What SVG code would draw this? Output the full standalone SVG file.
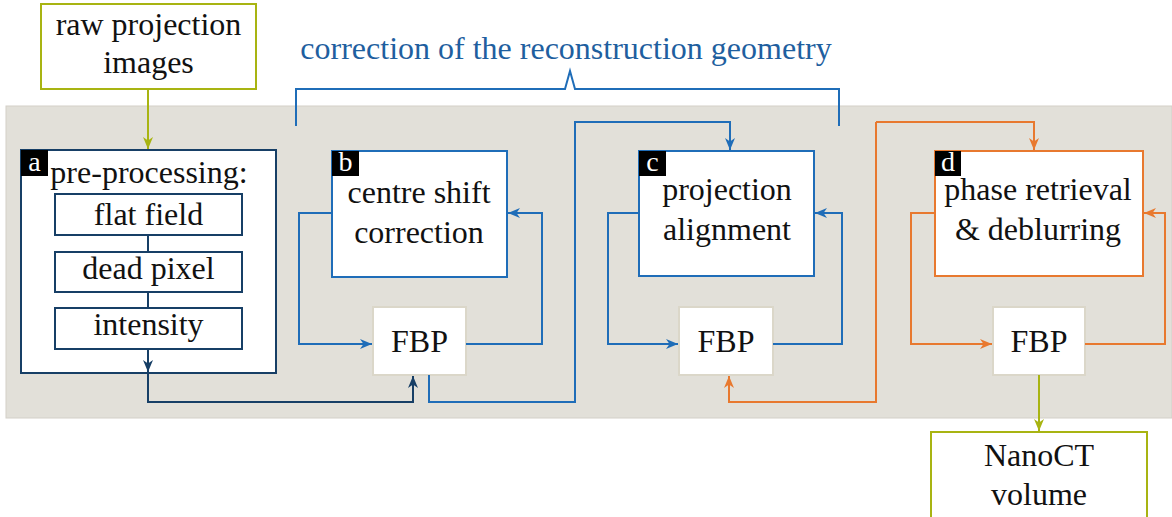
<svg xmlns="http://www.w3.org/2000/svg" width="1172" height="517" viewBox="0 0 1172 517">
  <defs>
    <style>
      text { font-family: "Liberation Serif", "Times New Roman", serif; font-size: 32px; fill: #111; text-anchor: middle; }
      .tag { font-size: 28px; fill: #fff; }
      .title { fill: #1f5f9f; }
      .box { fill: #fff; stroke-width: 2; }
      .navy { stroke: #173f66; }
      .blue { stroke: #1f6db8; }
      .orange { stroke: #e8792f; }
      .olive { stroke: #a8b412; }
      .fbp { fill: #fff; stroke: #dbd7c9; stroke-width: 2; }
      .wire { fill: none; stroke-width: 2; }
    </style>
    <marker id="ah-navy" viewBox="0 0 12 10" refX="12" refY="5" markerWidth="12" markerHeight="10" markerUnits="userSpaceOnUse" orient="auto">
      <path d="M0,0 L12,5 L0,10 L3.5,5 z" fill="#173f66"/>
    </marker>
    <marker id="ah-blue" viewBox="0 0 12 10" refX="12" refY="5" markerWidth="12" markerHeight="10" markerUnits="userSpaceOnUse" orient="auto">
      <path d="M0,0 L12,5 L0,10 L3.5,5 z" fill="#1f6db8"/>
    </marker>
    <marker id="ah-orange" viewBox="0 0 12 10" refX="12" refY="5" markerWidth="12" markerHeight="10" markerUnits="userSpaceOnUse" orient="auto">
      <path d="M0,0 L12,5 L0,10 L3.5,5 z" fill="#e8792f"/>
    </marker>
    <marker id="ah-olive" viewBox="0 0 12 10" refX="12" refY="5" markerWidth="12" markerHeight="10" markerUnits="userSpaceOnUse" orient="auto">
      <path d="M0,0 L12,5 L0,10 L3.5,5 z" fill="#a8b412"/>
    </marker>
  </defs>

  <!-- processing band -->
  <rect x="6" y="106" width="1166" height="312" fill="#e2e0d9" stroke="#d3d0c8" stroke-width="1"/>

  <!-- brace over steps b and c -->
  <g id="geometry-brace">
    <path class="wire blue" d="M296,126 V89 H565 L570,71 L575,89 H839 V126"/>
    <text class="title" x="566" y="59">correction of the reconstruction geometry</text>
  </g>

  <!-- input -->
  <g id="raw-projections">
    <rect class="box olive" x="41" y="4" width="215" height="85"/>
    <text x="148.5" y="35">raw projection</text>
    <text x="148.5" y="73">images</text>
  </g>

  <!-- a: pre-processing -->
  <g id="step-a">
    <rect class="box navy" x="21" y="150" width="255" height="223"/>
    <rect x="21" y="150" width="27" height="26" fill="#000"/>
    <text class="tag" x="34.5" y="171">a</text>
    <text x="149" y="183">pre-processing:</text>
    <rect class="box navy" x="55" y="194" width="187" height="41"/>
    <text x="148.5" y="225">flat field</text>
    <rect class="box navy" x="55" y="252" width="187" height="40"/>
    <text x="148.5" y="279">dead pixel</text>
    <rect class="box navy" x="55" y="308" width="187" height="41"/>
    <text x="148.5" y="335">intensity</text>
  </g>

  <!-- b: centre shift correction -->
  <g id="step-b">
    <rect class="box blue" x="332" y="151" width="175" height="126"/>
    <rect x="332" y="151" width="27" height="25" fill="#000"/>
    <text class="tag" x="345.5" y="171">b</text>
    <text x="419" y="203">centre shift</text>
    <text x="419" y="243">correction</text>
  </g>
  <g id="fbp-b">
    <rect class="fbp" x="373" y="307" width="93" height="68"/>
    <text x="419.5" y="352">FBP</text>
  </g>

  <!-- c: projection alignment -->
  <g id="step-c">
    <rect class="box blue" x="639" y="151" width="175" height="125"/>
    <rect x="639" y="151" width="27" height="25" fill="#000"/>
    <text class="tag" x="652.5" y="171">c</text>
    <text x="727" y="200">projection</text>
    <text x="727" y="240">alignment</text>
  </g>
  <g id="fbp-c">
    <rect class="fbp" x="679" y="307" width="94" height="68"/>
    <text x="726" y="352">FBP</text>
  </g>

  <!-- d: phase retrieval -->
  <g id="step-d">
    <rect class="box orange" x="935" y="151" width="208" height="125"/>
    <rect x="935" y="151" width="26" height="25" fill="#000"/>
    <text class="tag" x="948" y="171">d</text>
    <text x="1038" y="200">phase retrieval</text>
    <text x="1038" y="240">&amp; deblurring</text>
  </g>
  <g id="fbp-d">
    <rect class="fbp" x="993" y="307" width="92" height="68"/>
    <text x="1039" y="352">FBP</text>
  </g>

  <!-- output -->
  <g id="nanoct-volume">
    <rect class="box olive" x="931" y="432" width="216" height="100"/>
    <text x="1039" y="466">NanoCT</text>
    <text x="1039" y="505">volume</text>
  </g>

  <!-- connectors -->
  <g id="connectors">
    <path class="wire olive" d="M148,89 V149" marker-end="url(#ah-olive)"/>
    <path class="wire navy" d="M148,235 V252 M148,292 V308"/>
    <path class="wire navy" d="M148,349 V372" marker-end="url(#ah-navy)"/>
    <path class="wire navy" d="M148,373 V402 H413 V376" marker-end="url(#ah-navy)"/>

    <path class="wire blue" d="M332,213 H299 V344 H372" marker-end="url(#ah-blue)"/>
    <path class="wire blue" d="M466,344 H542 V213 H508" marker-end="url(#ah-blue)"/>
    <path class="wire blue" d="M429,375 V402 H575 V122 H730 V150" marker-end="url(#ah-blue)"/>

    <path class="wire blue" d="M639,213 H608 V344 H678" marker-end="url(#ah-blue)"/>
    <path class="wire blue" d="M773,344 H842 V213 H815" marker-end="url(#ah-blue)"/>

    <path class="wire orange" d="M876,122 H1034 V150" marker-end="url(#ah-orange)"/>
    <path class="wire orange" d="M876,122 V402 H729 V376" marker-end="url(#ah-orange)"/>
    <path class="wire orange" d="M935,213 H911 V344 H992" marker-end="url(#ah-orange)"/>
    <path class="wire orange" d="M1085,344 H1165 V213 H1144" marker-end="url(#ah-orange)"/>

    <path class="wire olive" d="M1039,375 V431" marker-end="url(#ah-olive)"/>
  </g>
</svg>
